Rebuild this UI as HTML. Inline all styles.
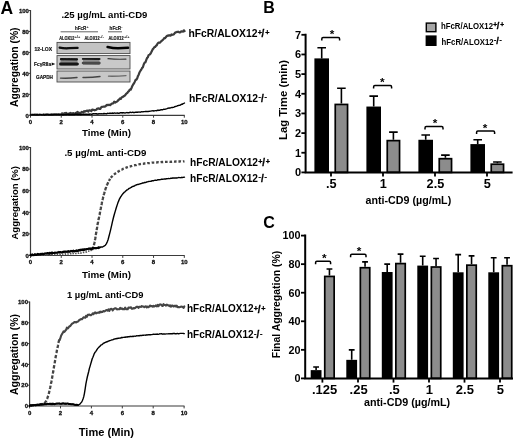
<!DOCTYPE html>
<html lang="en"><head><meta charset="utf-8"><title>Figure</title>
<style>html,body{margin:0;padding:0;background:#fff;overflow:hidden}svg{display:block}text{font-family:"Liberation Sans", sans-serif}</style>
</head><body>
<svg width="520" height="439" viewBox="0 0 520 439">
<defs><filter id="b1" filterUnits="userSpaceOnUse" x="50" y="38" width="90" height="50"><feGaussianBlur stdDeviation="0.6"/></filter><filter id="soft" filterUnits="userSpaceOnUse" x="0" y="0" width="520" height="439"><feGaussianBlur stdDeviation="0.35"/></filter><filter id="b2" filterUnits="userSpaceOnUse" x="50" y="38" width="90" height="50"><feGaussianBlur stdDeviation="0.45"/></filter></defs>
<rect width="520" height="439" fill="#fff"/>
<g filter="url(#soft)">
<text x="0.6" y="13.5" font-size="17.5" font-weight="bold" fill="#000">A</text>
<text x="263.3" y="13" font-size="16" font-weight="bold" fill="#000">B</text>
<text x="263.2" y="228" font-size="16" font-weight="bold" fill="#000">C</text>
<path d="M30.5,10.0V115.3H184.70000000000002" fill="none" stroke="#3a3a3a" stroke-width="1.2"/>
<path d="M28.7,115.30H30.5" stroke="#3a3a3a" stroke-width="1"/>
<text x="28.9" y="117.5" font-size="6" font-weight="bold" fill="#111" text-anchor="end" stroke="#111" stroke-width="0.3">0</text>
<path d="M28.7,94.34H30.5" stroke="#3a3a3a" stroke-width="1"/>
<text x="28.9" y="96.54" font-size="6" font-weight="bold" fill="#111" text-anchor="end" stroke="#111" stroke-width="0.3">20</text>
<path d="M28.7,73.38H30.5" stroke="#3a3a3a" stroke-width="1"/>
<text x="28.9" y="75.58" font-size="6" font-weight="bold" fill="#111" text-anchor="end" stroke="#111" stroke-width="0.3">40</text>
<path d="M28.7,52.42H30.5" stroke="#3a3a3a" stroke-width="1"/>
<text x="28.9" y="54.62" font-size="6" font-weight="bold" fill="#111" text-anchor="end" stroke="#111" stroke-width="0.3">60</text>
<path d="M28.7,31.46H30.5" stroke="#3a3a3a" stroke-width="1"/>
<text x="28.9" y="33.66" font-size="6" font-weight="bold" fill="#111" text-anchor="end" stroke="#111" stroke-width="0.3">80</text>
<path d="M28.7,10.50H30.5" stroke="#3a3a3a" stroke-width="1"/>
<text x="28.9" y="12.7" font-size="6" font-weight="bold" fill="#111" text-anchor="end" stroke="#111" stroke-width="0.3">100</text>
<path d="M30.50,115.3V117.7" stroke="#3a3a3a" stroke-width="1"/>
<text x="30.5" y="124.1" font-size="6" font-weight="bold" fill="#111" text-anchor="middle" stroke="#111" stroke-width="0.3">0</text>
<path d="M61.26,115.3V117.7" stroke="#3a3a3a" stroke-width="1"/>
<text x="61.26" y="124.1" font-size="6" font-weight="bold" fill="#111" text-anchor="middle" stroke="#111" stroke-width="0.3">2</text>
<path d="M92.02,115.3V117.7" stroke="#3a3a3a" stroke-width="1"/>
<text x="92.02" y="124.1" font-size="6" font-weight="bold" fill="#111" text-anchor="middle" stroke="#111" stroke-width="0.3">4</text>
<path d="M122.78,115.3V117.7" stroke="#3a3a3a" stroke-width="1"/>
<text x="122.78" y="124.1" font-size="6" font-weight="bold" fill="#111" text-anchor="middle" stroke="#111" stroke-width="0.3">6</text>
<path d="M153.54,115.3V117.7" stroke="#3a3a3a" stroke-width="1"/>
<text x="153.54" y="124.1" font-size="6" font-weight="bold" fill="#111" text-anchor="middle" stroke="#111" stroke-width="0.3">8</text>
<path d="M184.30,115.3V117.7" stroke="#3a3a3a" stroke-width="1"/>
<text x="184.3" y="124.1" font-size="6" font-weight="bold" fill="#111" text-anchor="middle" stroke="#111" stroke-width="0.3">10</text>
<text x="61.4" y="18" font-size="9.55" font-weight="bold" fill="#000" textLength="86" lengthAdjust="spacingAndGlyphs">.25 µg/mL anti-CD9</text>
<text x="82" y="136" font-size="9.84" font-weight="bold" fill="#000" textLength="49" lengthAdjust="spacingAndGlyphs">Time (Min)</text>
<text transform="translate(18.3,107) rotate(-90)" font-size="10.3" font-weight="bold" fill="#000" textLength="79.5" lengthAdjust="spacingAndGlyphs">Aggregation (%)</text>
<polyline points="30.5,114.5 31.1,114.4 31.8,114.7 32.4,114.3 33.0,114.6 33.6,114.5 34.3,114.3 34.9,114.5 35.5,114.3 36.2,114.5 36.8,114.3 37.4,114.3 38.1,114.5 38.7,114.7 39.3,114.3 40.0,114.3 40.6,114.5 41.2,114.7 41.8,114.5 42.5,114.4 43.1,114.7 43.7,114.1 44.4,114.6 45.0,114.3 45.6,114.2 46.2,114.1 46.9,114.2 47.5,114.5 48.1,114.1 48.8,114.4 49.4,114.4 50.0,114.2 50.7,114.3 51.3,114.0 51.9,114.0 52.5,114.1 53.2,114.3 53.8,114.1 54.4,114.1 55.1,114.2 55.7,114.1 56.3,114.0 57.0,114.3 57.6,114.2 58.2,113.9 58.9,114.1 59.5,114.0 60.1,114.2 60.7,114.1 61.4,113.8 62.0,114.2" fill="none" stroke="#3a3a3a" stroke-width="1.5" stroke-linejoin="round" stroke-linecap="round"/>
<polyline points="62.0,113.3 62.8,113.7 63.6,114.2 64.5,113.1 65.3,113.7 66.1,112.8 66.9,113.9 67.7,114.0 68.5,113.6 69.4,114.1 70.2,113.0 71.0,113.6 71.8,113.4 72.6,113.3 73.4,113.1 74.3,113.6 75.1,113.7 75.9,112.9 76.7,113.1 77.5,112.0 78.3,113.0 79.2,112.8 80.0,113.3 80.8,112.9 81.6,111.9 82.4,112.0 83.3,112.3 84.1,111.1 84.9,111.7 85.7,111.1 86.5,110.9 87.3,110.6 88.2,111.6 89.0,110.4 89.8,110.4 90.6,110.5 91.4,111.1 92.2,109.6 93.1,110.0 93.9,109.9 94.7,110.3 95.5,110.0 96.3,109.8 97.1,108.6 98.0,108.6 98.8,108.3 99.6,108.9 100.4,108.8 101.2,107.2 102.0,106.9 102.9,106.7 103.7,106.5 104.5,106.6 105.3,106.4 106.1,105.6 107.0,104.8 107.8,105.2 108.6,104.8 109.4,104.8 110.2,105.1 111.0,104.3 111.9,103.6 112.7,103.4 113.5,103.1 114.3,101.6 115.1,102.6 115.9,102.0 116.8,101.7 117.6,101.1 118.4,99.9 119.2,99.5 120.0,98.5 120.8,98.9 121.7,97.4 122.5,96.9 123.3,96.6 124.1,95.9 124.9,95.5 125.8,94.3 126.6,93.4 127.4,92.8 128.2,91.7 129.0,91.1 129.8,89.5 130.7,89.7 131.5,88.0 132.3,86.0 133.1,84.7 133.9,83.4 134.7,81.9 135.6,79.9 136.4,79.6 137.2,78.3 138.0,75.9 138.8,74.4 139.6,72.2 140.5,70.7 141.3,69.6 142.1,67.9 142.9,67.3 143.7,64.5 144.6,62.6 145.4,62.5 146.2,60.2 147.0,58.1 147.8,57.3 148.6,55.1 149.5,54.6 150.3,54.0 151.1,52.6 151.9,51.1 152.7,49.3 153.5,48.4 154.4,47.0 155.2,47.0 156.0,45.7 156.8,45.2 157.6,43.6 158.4,42.6 159.3,42.8 160.1,42.4 160.9,41.5 161.7,40.8 162.5,40.2 163.3,39.5 164.2,38.1 165.0,38.1 165.8,37.3 166.6,36.2 167.4,35.7 168.3,35.7 169.1,35.2 169.9,35.6 170.7,35.6 171.5,34.4 172.3,34.8 173.2,34.6 174.0,34.2 174.8,33.0 175.6,32.4 176.4,32.2 177.2,31.9 178.1,31.7 178.9,32.1 179.7,32.4 180.5,32.1 181.3,31.3 182.1,31.5 183.0,31.6 183.8,30.3 184.6,31.2" fill="none" stroke="#3a3a3a" stroke-width="2.2" stroke-linejoin="round" stroke-linecap="round"/>
<polyline points="30.5,115.0 31.2,114.9 31.9,114.9 32.6,114.8 33.3,114.6 34.0,114.9 34.7,114.7 35.4,114.9 36.1,115.0 36.8,114.7 37.5,114.7 38.2,115.0 38.9,114.9 39.6,114.6 40.3,114.6 41.0,114.6 41.7,114.9 42.4,114.9 43.1,114.6 43.8,114.9 44.5,115.0 45.2,114.8 45.9,114.6 46.6,114.7 47.3,114.5 48.0,114.5 48.7,114.9 49.4,114.8 50.1,114.7 50.8,114.9 51.5,114.7 52.2,114.9 52.9,114.8 53.6,114.5 54.3,114.5 55.0,114.6 55.7,114.5 56.4,114.7 57.1,114.5 57.8,114.6 58.5,114.5 59.2,114.8 59.9,114.6 60.6,114.6 61.3,114.6 62.0,114.8 62.7,114.6 63.4,114.8 64.1,114.6 64.8,114.6 65.5,114.6 66.2,114.3 66.9,114.5 67.6,114.4 68.3,114.3 69.0,114.7 69.7,114.3 70.4,114.5 71.1,114.6 71.8,114.5 72.5,114.4 73.2,114.5 73.9,114.5 74.6,114.6 75.3,114.2 76.0,114.4 76.7,114.3 77.4,114.3 78.1,114.5 78.8,114.4 79.5,114.4 80.2,114.5 80.9,114.5 81.6,114.3 82.3,114.3 83.0,114.3 83.7,114.3 84.4,114.3 85.1,114.2 85.8,114.2 86.5,114.2 87.2,114.4 87.9,114.3 88.6,114.3 89.3,114.3 90.0,114.0 90.7,114.1 91.4,114.3 92.1,114.2 92.8,113.8 93.5,113.8 94.2,113.9 94.9,113.7 95.6,113.8 96.3,113.7 97.0,114.0 97.7,114.0 98.4,114.0 99.1,113.6 99.8,113.9 100.5,113.8 101.2,113.6 101.9,113.9 102.6,113.9 103.3,113.5 104.0,113.8 104.7,113.5 105.4,113.6 106.1,113.8 106.8,113.7 107.5,113.3 108.2,113.4 108.9,113.4 109.6,113.3 110.3,113.2 111.0,113.2 111.7,113.4 112.4,113.0 113.1,113.3 113.8,113.2 114.5,113.0 115.2,113.1 115.9,113.2 116.6,113.1 117.3,112.9 118.0,113.3 118.7,113.2 119.4,113.2 120.1,112.8 120.8,112.8 121.5,112.7 122.2,113.0 122.9,112.7 123.6,112.6 124.3,112.8 125.0,113.0 125.7,112.9 126.4,112.6 127.1,112.5 127.8,112.9 128.5,112.6 129.2,112.7 129.9,112.3 130.6,112.3 131.3,112.6 132.0,112.4 132.7,112.2 133.4,112.6 134.1,112.4 134.8,112.5 135.5,112.1 136.2,112.4 136.9,112.0 137.6,112.3 138.3,112.1 139.0,112.0 139.7,112.1 140.4,112.2 141.1,111.9 141.8,111.7 142.5,111.9 143.2,111.7 143.9,111.6 144.6,111.6 145.3,111.5 146.0,111.5 146.7,111.5 147.4,111.4 148.1,111.6 148.8,111.3 149.5,111.4 150.2,111.1 150.9,111.1 151.6,110.9 152.3,110.9 153.0,110.7 153.7,111.0 154.4,110.8 155.1,110.6 155.8,110.6 156.5,110.7 157.2,110.2 157.9,110.5 158.6,110.2 159.3,110.1 160.0,110.2 160.7,109.8 161.4,109.8 162.1,109.7 162.8,109.8 163.5,109.3 164.2,109.4 164.9,109.2 165.6,109.1 166.3,108.8 167.0,108.6 167.7,108.3 168.4,108.2 169.1,108.0 169.8,108.2 170.5,107.8 171.2,107.6 171.9,107.4 172.6,107.5 173.3,107.4 174.0,107.1 174.7,106.7 175.4,106.5 176.1,106.3 176.8,106.1 177.5,105.7 178.2,105.6 178.9,105.3 179.6,105.3 180.3,105.1 181.0,104.6 181.7,104.2 182.4,104.2 183.1,103.6 183.8,103.4 184.5,103.0" fill="none" stroke="#000" stroke-width="1.4" stroke-linejoin="round" stroke-linecap="round"/>
<text x="188.4" y="36.6" font-size="10.71" font-weight="bold" fill="#000" textLength="69" lengthAdjust="spacingAndGlyphs">hFcR/ALOX12</text>
<text x="257.70" y="35.10" font-size="7.2" font-weight="bold" fill="#000" stroke="#000" stroke-width="0.30">+</text>
<text x="261.60" y="37.20" font-size="10.0" font-weight="bold" fill="#000" stroke="#000" stroke-width="0.30">/</text>
<text x="265.20" y="35.10" font-size="7.2" font-weight="bold" fill="#000" stroke="#000" stroke-width="0.30">+</text>
<text x="189" y="101.6" font-size="10.71" font-weight="bold" fill="#000" textLength="69" lengthAdjust="spacingAndGlyphs">hFcR/ALOX12</text>
<text x="258.40" y="99.20" font-size="7.2" font-weight="bold" fill="#000" stroke="#000" stroke-width="0.30">-</text>
<text x="261.00" y="101.70" font-size="10.0" font-weight="bold" fill="#000" stroke="#000" stroke-width="0.30">/</text>
<text x="264.50" y="99.20" font-size="7.2" font-weight="bold" fill="#000" stroke="#000" stroke-width="0.30">-</text>
<g>
<rect x="57" y="42.4" width="73" height="11.2" fill="#c3c3c3" stroke="#4a4a4a" stroke-width="0.9"/>
<rect x="57" y="55.6" width="73" height="13.4" fill="#c9c9c9" stroke="#4a4a4a" stroke-width="0.9"/>
<rect x="57" y="71" width="73" height="11" fill="#c8c8c8" stroke="#4a4a4a" stroke-width="0.9"/>
<path d="M59.6,47.6Q64,48.5 69,48.2T77.6,47.9" stroke="#080808" stroke-width="2.2" fill="none" stroke-linecap="round" filter="url(#b1)"/>
<path d="M107.6,47Q113,48.2 118,48.2T128,47.8" stroke="#060606" stroke-width="2.6" fill="none" stroke-linecap="round" filter="url(#b1)"/>
<rect x="60.5" y="58.2" width="17" height="7.4" fill="#8a8a8a" filter="url(#b1)"/>
<path d="M61,59.2L77,59.3" stroke="#141414" stroke-width="2.2" stroke-linecap="round" filter="url(#b1)"/>
<path d="M60.6,63.9L77.4,64" stroke="#121212" stroke-width="3.0" stroke-linecap="round" filter="url(#b1)"/>
<rect x="83" y="58.4" width="16.5" height="6.6" fill="#8e8e8e" filter="url(#b1)"/>
<path d="M82.8,58.9L99.6,59" stroke="#1a1a1a" stroke-width="1.9" stroke-linecap="round" filter="url(#b1)"/>
<path d="M83,63L99.4,63.1" stroke="#4a4a4a" stroke-width="2.6" stroke-linecap="round" filter="url(#b1)"/>
<path d="M108,58.7Q117,59.5 126,59.1" stroke="#3a3a3a" stroke-width="1.2" fill="none" stroke-linecap="round" filter="url(#b2)"/>
<path d="M60.5,78.1Q69,78.5 77,77.5" stroke="#444" stroke-width="1.4" fill="none" stroke-linecap="round" filter="url(#b2)"/>
<path d="M83,77.5Q91,77.7 100,76.5" stroke="#444" stroke-width="1.4" fill="none" stroke-linecap="round" filter="url(#b2)"/>
<path d="M108.5,76.2Q117,76.4 126,75.6" stroke="#6a6a6a" stroke-width="1.3" fill="none" stroke-linecap="round" filter="url(#b2)"/>
<text x="34.5" y="50.9" font-size="5.3" font-weight="bold" fill="#111" stroke="#111" stroke-width="0.18" textLength="17.5" lengthAdjust="spacingAndGlyphs">12-LOX</text>
<text x="34.1" y="65.9" font-size="5.2" font-weight="bold" fill="#111" stroke="#111" stroke-width="0.18" textLength="17" lengthAdjust="spacingAndGlyphs">FcγRIIa</text>
<path d="M51.7,62.5L55.3,64L51.7,65.5Z" fill="#111"/>
<text x="36" y="78.7" font-size="5.2" font-weight="bold" fill="#111" stroke="#111" stroke-width="0.18" textLength="17" lengthAdjust="spacingAndGlyphs">GAPDH</text>
<text x="75" y="30" font-size="5.6" font-weight="bold" fill="#111" stroke="#111" stroke-width="0.18" textLength="11.4" lengthAdjust="spacingAndGlyphs">hFcR</text>
<text x="86.6" y="27.8" font-size="3.6" font-weight="bold" fill="#111">+</text>
<text x="109.6" y="30" font-size="5.6" font-weight="bold" fill="#111" stroke="#111" stroke-width="0.18" textLength="11.4" lengthAdjust="spacingAndGlyphs">hFcR</text>
<text x="121.2" y="27.6" font-size="3.6" font-weight="bold" fill="#111">-</text>
<path d="M60.6,31.8H98M108,31.8H122" stroke="#555" stroke-width="0.9"/>
<text x="59.2" y="40" font-size="5.3" font-weight="bold" fill="#111" stroke="#111" stroke-width="0.18" textLength="15.2" lengthAdjust="spacingAndGlyphs">ALOX12</text>
<text x="74.7" y="38.2" font-size="3.6" font-weight="bold" fill="#111" textLength="5.6" lengthAdjust="spacingAndGlyphs">+/+</text>
<text x="84.4" y="40" font-size="5.3" font-weight="bold" fill="#111" stroke="#111" stroke-width="0.18" textLength="15.2" lengthAdjust="spacingAndGlyphs">ALOX12</text>
<text x="99.9" y="38.2" font-size="3.6" font-weight="bold" fill="#111" textLength="4.2" lengthAdjust="spacingAndGlyphs">-/-</text>
<text x="108.4" y="40" font-size="5.3" font-weight="bold" fill="#111" stroke="#111" stroke-width="0.18" textLength="15.2" lengthAdjust="spacingAndGlyphs">ALOX12</text>
<text x="123.9" y="38.2" font-size="3.6" font-weight="bold" fill="#111" textLength="5.6" lengthAdjust="spacingAndGlyphs">+/+</text>
</g>
<path d="M30.5,147.0V255.5H184.70000000000002" fill="none" stroke="#3a3a3a" stroke-width="1.2"/>
<path d="M28.7,255.50H30.5" stroke="#3a3a3a" stroke-width="1"/>
<text x="28.9" y="257.7" font-size="6" font-weight="bold" fill="#111" text-anchor="end" stroke="#111" stroke-width="0.3">0</text>
<path d="M28.7,233.90H30.5" stroke="#3a3a3a" stroke-width="1"/>
<text x="28.9" y="236.1" font-size="6" font-weight="bold" fill="#111" text-anchor="end" stroke="#111" stroke-width="0.3">20</text>
<path d="M28.7,212.30H30.5" stroke="#3a3a3a" stroke-width="1"/>
<text x="28.9" y="214.5" font-size="6" font-weight="bold" fill="#111" text-anchor="end" stroke="#111" stroke-width="0.3">40</text>
<path d="M28.7,190.70H30.5" stroke="#3a3a3a" stroke-width="1"/>
<text x="28.9" y="192.9" font-size="6" font-weight="bold" fill="#111" text-anchor="end" stroke="#111" stroke-width="0.3">60</text>
<path d="M28.7,169.10H30.5" stroke="#3a3a3a" stroke-width="1"/>
<text x="28.9" y="171.3" font-size="6" font-weight="bold" fill="#111" text-anchor="end" stroke="#111" stroke-width="0.3">80</text>
<path d="M28.7,147.50H30.5" stroke="#3a3a3a" stroke-width="1"/>
<text x="28.9" y="149.7" font-size="6" font-weight="bold" fill="#111" text-anchor="end" stroke="#111" stroke-width="0.3">100</text>
<path d="M30.50,255.5V257.9" stroke="#3a3a3a" stroke-width="1"/>
<text x="30.5" y="264.3" font-size="6" font-weight="bold" fill="#111" text-anchor="middle" stroke="#111" stroke-width="0.3">0</text>
<path d="M61.26,255.5V257.9" stroke="#3a3a3a" stroke-width="1"/>
<text x="61.26" y="264.3" font-size="6" font-weight="bold" fill="#111" text-anchor="middle" stroke="#111" stroke-width="0.3">2</text>
<path d="M92.02,255.5V257.9" stroke="#3a3a3a" stroke-width="1"/>
<text x="92.02" y="264.3" font-size="6" font-weight="bold" fill="#111" text-anchor="middle" stroke="#111" stroke-width="0.3">4</text>
<path d="M122.78,255.5V257.9" stroke="#3a3a3a" stroke-width="1"/>
<text x="122.78" y="264.3" font-size="6" font-weight="bold" fill="#111" text-anchor="middle" stroke="#111" stroke-width="0.3">6</text>
<path d="M153.54,255.5V257.9" stroke="#3a3a3a" stroke-width="1"/>
<text x="153.54" y="264.3" font-size="6" font-weight="bold" fill="#111" text-anchor="middle" stroke="#111" stroke-width="0.3">8</text>
<path d="M184.30,255.5V257.9" stroke="#3a3a3a" stroke-width="1"/>
<text x="184.3" y="264.3" font-size="6" font-weight="bold" fill="#111" text-anchor="middle" stroke="#111" stroke-width="0.3">10</text>
<text x="64.4" y="156.1" font-size="9.71" font-weight="bold" fill="#000" textLength="82" lengthAdjust="spacingAndGlyphs">.5 µg/mL anti-CD9</text>
<text x="82" y="277.5" font-size="9.84" font-weight="bold" fill="#000" textLength="49" lengthAdjust="spacingAndGlyphs">Time (Min)</text>
<text transform="translate(18.3,239.5) rotate(-90)" font-size="9.52" font-weight="bold" fill="#000" textLength="73.5" lengthAdjust="spacingAndGlyphs">Aggregation (%)</text>
<polyline points="30.5,255.3 31.3,255.4 32.0,255.4 32.8,255.2 33.6,255.3 34.3,255.0 35.1,255.1 35.9,255.0 36.6,255.2 37.4,255.0 38.2,254.9 39.0,255.1 39.7,255.0 40.5,255.2 41.3,255.1 42.0,255.2 42.8,255.1 43.6,255.1 44.3,255.2 45.1,254.9 45.9,254.9 46.6,255.2 47.4,254.7 48.2,255.0 49.0,254.9 49.7,254.6 50.5,254.9 51.3,254.9 52.0,254.8 52.8,254.8 53.6,254.8 54.3,254.4 55.1,254.6 55.9,254.6 56.6,254.7 57.4,254.7 58.2,254.6 58.9,254.5 59.7,254.6 60.5,254.5 61.2,254.4 62.0,254.2 62.8,254.0 63.6,254.0 64.3,254.1 65.1,253.9 65.9,254.2 66.6,254.1 67.4,254.0 68.2,254.0 68.9,254.0 69.7,253.8 70.5,253.5 71.2,253.9 72.0,253.8 72.8,253.6 73.5,253.5 74.3,253.5 75.1,253.2 75.9,253.5 76.6,253.1 77.4,253.0 78.2,253.0 78.9,253.2 79.7,252.8 80.5,253.0 81.2,253.0 82.0,252.7 82.8,252.5 83.5,252.4 84.3,252.4 85.1,252.3 85.8,252.1 86.6,251.9 87.4,251.4 88.2,251.2 88.9,251.0 89.7,250.9 90.5,250.4 91.2,250.3 92.0,249.8" fill="none" stroke="#555" stroke-width="1.7" stroke-linejoin="round" stroke-linecap="butt" stroke-dasharray="1.5 1.2"/>
<polyline points="92.0,249.9 92.2,249.5 92.5,249.1 92.7,248.7 92.9,248.3 93.1,247.8 93.3,247.3 93.6,246.6 93.8,245.8 94.0,244.8 94.2,243.9 94.5,242.6 94.7,241.6 94.9,240.3 95.2,238.9 95.4,237.7 95.6,236.5 95.8,235.2 96.0,233.7 96.3,232.3 96.5,230.9 96.7,229.7 97.0,228.1 97.2,226.9 97.4,225.5 97.6,224.3 97.8,223.2 98.1,221.9 98.3,220.9 98.5,219.7 98.8,218.7 99.0,217.6 99.2,216.4 99.4,215.4 99.7,214.2 99.9,213.0 100.1,211.9 100.3,210.8 100.5,209.7 100.8,208.4 101.0,207.2 101.2,206.1 101.5,204.9 101.7,203.9 101.9,202.6 102.1,201.7 102.3,200.7 102.6,199.6 102.8,198.8 103.0,197.9 103.2,197.0 103.5,196.0 103.7,195.2 103.9,194.3 104.2,193.6 104.4,192.7 104.6,191.9 104.8,191.1 105.0,190.4 105.3,189.6 105.5,188.9 105.7,188.4 106.0,187.6 106.2,187.1 106.4,186.4 106.6,185.8 106.8,185.3 107.1,184.7 107.3,184.2 107.5,183.9 107.8,183.4 108.0,182.9 108.2,182.4 108.4,182.0 108.7,181.6 108.9,181.1 109.1,180.7 109.3,180.1 109.5,179.8 109.8,179.2 110.0,178.8" fill="none" stroke="#454545" stroke-width="2.3" stroke-linejoin="round" stroke-linecap="butt" stroke-dasharray="3.6 1.5"/>
<polyline points="110.8,177.8 111.4,177.1 112.0,176.4 112.6,176.0 113.3,175.2 113.9,174.7 114.5,174.2 115.1,173.7 115.7,173.3 116.3,172.9 116.9,172.3 117.6,172.0 118.2,171.5 118.8,171.2 119.4,170.8 120.0,170.4 120.6,170.0 121.2,169.7 121.9,169.6 122.5,169.2 123.1,168.8 123.7,168.7 124.3,168.5 124.9,168.1 125.5,167.8 126.2,167.6 126.8,167.4 127.4,167.2 128.0,167.0 128.6,166.8 129.2,166.6 129.8,166.5 130.5,166.4 131.1,166.2 131.7,166.0 132.3,165.8 132.9,165.7 133.5,165.5 134.1,165.4 134.8,165.2 135.4,165.1 136.0,165.1 136.6,164.8 137.2,164.7 137.8,164.6 138.4,164.5 139.1,164.3 139.7,164.2 140.3,164.1 140.9,164.0 141.5,163.9 142.1,163.9 142.7,163.8 143.4,163.8 144.0,163.5 144.6,163.5 145.2,163.5 145.8,163.5 146.4,163.3 147.0,163.3 147.7,163.1 148.3,163.1 148.9,163.2 149.5,163.1 150.1,163.0 150.7,163.0 151.3,162.8 151.9,162.7 152.6,162.7 153.2,162.7 153.8,162.7 154.4,162.7 155.0,162.6 155.6,162.5 156.2,162.5 156.9,162.4 157.5,162.4 158.1,162.2 158.7,162.3 159.3,162.2 159.9,162.3 160.5,162.2 161.2,162.1 161.8,162.0 162.4,162.0 163.0,162.1 163.6,162.0 164.2,161.9 164.8,161.9 165.5,161.9 166.1,161.9 166.7,161.9 167.3,161.8 167.9,161.8 168.5,161.7 169.1,161.7 169.8,161.8 170.4,161.8 171.0,161.7 171.6,161.8 172.2,161.7 172.8,161.6 173.4,161.6 174.1,161.7 174.7,161.6 175.3,161.6 175.9,161.5 176.5,161.6 177.1,161.6 177.7,161.5 178.4,161.5 179.0,161.5 179.6,161.5 180.2,161.4 180.8,161.3 181.4,161.4 182.0,161.4 182.7,161.4 183.3,161.3 183.9,161.4 184.5,161.3" fill="none" stroke="#454545" stroke-width="2.3" stroke-linejoin="round" stroke-linecap="butt" stroke-dasharray="2.6 1.9"/>
<polyline points="30.5,255.0 31.2,254.8 31.9,255.1 32.6,254.7 33.3,254.9 34.0,254.6 34.7,254.5 35.4,254.7 36.1,254.4 36.8,254.6 37.5,254.4 38.2,254.2 38.9,254.1 39.6,254.1 40.3,254.2 41.0,254.2 41.7,253.8 42.4,253.9 43.1,253.7 43.8,254.0 44.5,253.6 45.2,253.5 45.9,253.4 46.6,253.5 47.3,253.6 48.0,253.5 48.7,253.4 49.4,253.5 50.1,253.4 50.8,253.1 51.5,252.9 52.2,253.2 52.9,253.0 53.6,252.7 54.3,252.9 55.0,252.7 55.7,252.7 56.4,252.6 57.1,252.5 57.8,252.3 58.5,252.4 59.2,252.4 59.9,252.5 60.6,252.2 61.3,252.4 62.0,252.1 62.7,252.1 63.4,252.2 64.1,252.1 64.8,251.9 65.5,251.7 66.2,251.8 66.9,251.7 67.6,251.8 68.3,251.5 69.0,251.5 69.7,251.6 70.4,251.2 71.1,251.2 71.8,251.3 72.5,251.2 73.2,250.8 73.9,250.7 74.6,250.7 75.3,250.9 76.0,250.6 76.7,250.7 77.4,250.6 78.1,250.3 78.8,250.2 79.5,250.4 80.2,250.1 80.9,249.9 81.6,250.0 82.3,249.7 83.0,249.6 83.7,249.4 84.4,249.6 85.1,249.6 85.8,249.4 86.5,249.4 87.2,248.9 87.9,248.9 88.6,248.9 89.3,249.0 90.0,248.9 90.7,248.6 91.4,248.4 92.1,248.4 92.8,248.4 93.5,248.4 94.2,248.1 94.9,248.2 95.6,248.2 96.3,248.1 97.0,248.0 97.7,247.8 98.4,247.6 99.1,247.5 99.8,247.4 100.5,247.4 101.2,247.0 101.9,246.9 102.6,247.0 103.3,246.5 104.0,246.1 104.7,245.7 105.4,245.2 106.1,244.1 106.8,242.9 107.5,241.2 108.2,239.2 108.9,236.5 109.6,233.9 110.3,231.1 111.0,228.2 111.7,225.1 112.4,221.9 113.1,219.0 113.8,216.3 114.5,213.8 115.2,211.4 115.9,209.0 116.6,206.8 117.3,204.6 118.0,202.5 118.7,200.9 119.4,199.1 120.1,197.8 120.8,196.6 121.5,195.7 122.2,194.6 122.9,193.8 123.6,193.0 124.3,192.2 125.0,191.8 125.7,191.1 126.4,190.4 127.1,189.9 127.8,189.6 128.5,188.9 129.2,188.4 129.9,188.2 130.6,187.7 131.3,187.4 132.0,186.7 132.7,186.5 133.4,186.3 134.1,186.0 134.8,185.8 135.5,185.1 136.2,185.0 136.9,184.7 137.6,184.4 138.3,184.5 139.0,184.1 139.7,184.1 140.4,183.6 141.1,183.6 141.8,183.3 142.5,183.0 143.2,183.0 143.9,182.9 144.6,182.4 145.3,182.5 146.0,182.3 146.7,182.0 147.4,181.9 148.1,181.7 148.8,181.5 149.5,181.4 150.2,181.4 150.9,181.3 151.6,181.0 152.3,180.7 153.0,180.7 153.7,180.7 154.4,180.4 155.1,180.3 155.8,180.2 156.5,180.3 157.2,180.1 157.9,179.7 158.6,179.7 159.3,179.7 160.0,179.6 160.7,179.6 161.4,179.2 162.1,179.2 162.8,179.3 163.5,179.1 164.2,179.0 164.9,178.9 165.6,179.1 166.3,178.7 167.0,178.7 167.7,178.6 168.4,178.5 169.1,178.6 169.8,178.6 170.5,178.3 171.2,178.2 171.9,178.3 172.6,178.0 173.3,177.9 174.0,178.2 174.7,177.9 175.4,178.0 176.1,177.8 176.8,178.0 177.5,177.8 178.2,177.6 178.9,177.5 179.6,177.6 180.3,177.6 181.0,177.7 181.7,177.3 182.4,177.5 183.1,177.3 183.8,177.4 184.5,177.2" fill="none" stroke="#000" stroke-width="1.4" stroke-linejoin="round" stroke-linecap="round"/>
<polyline points="30.5,254.8 31.1,255.0 31.7,255.4 32.2,254.4 32.8,254.8 33.4,255.1 34.0,255.2 34.6,254.3 35.1,254.2 35.7,255.0 36.3,255.0 36.9,254.4 37.5,253.9 38.0,254.8 38.6,254.1 39.2,254.6 39.8,254.3 40.3,254.4 40.9,253.7 41.5,254.3 42.1,253.6 42.7,253.8 43.2,254.2 43.8,254.1 44.4,253.4 45.0,253.4 45.6,253.5 46.1,253.6 46.7,253.4 47.3,253.0 47.9,253.1 48.5,253.6 49.0,253.7 49.6,252.7 50.2,253.3 50.8,253.4 51.4,252.6 51.9,253.4 52.5,252.6 53.1,253.0 53.7,252.9 54.2,253.0 54.8,252.6 55.4,252.6 56.0,252.8 56.6,252.6 57.1,252.8 57.7,252.5 58.3,252.4 58.9,251.9 59.5,252.5 60.0,252.3 60.6,252.0 61.2,252.5 61.8,252.5 62.4,252.1 62.9,251.7 63.5,252.0 64.1,251.6 64.7,251.5 65.2,251.8 65.8,251.4 66.4,251.7 67.0,251.7 67.6,251.2 68.1,251.8 68.7,251.1 69.3,251.7 69.9,251.7 70.5,251.4 71.0,250.8 71.6,251.2 72.2,251.0 72.8,251.6 73.4,250.6 73.9,251.3 74.5,251.4 75.1,251.0 75.7,251.1 76.3,250.3 76.8,251.1 77.4,250.5 78.0,250.9 78.6,250.8 79.2,249.9 79.7,250.5 80.3,250.6 80.9,249.5 81.5,249.8 82.0,250.1 82.6,249.4 83.2,250.1 83.8,249.4 84.4,249.9 84.9,249.1 85.5,249.4 86.1,249.7 86.7,248.9 87.3,248.9 87.8,249.0 88.4,248.8 89.0,248.4 89.6,248.4 90.2,248.3 90.7,249.1 91.3,248.8 91.9,248.9 92.5,248.0 93.0,248.6 93.6,247.8 94.2,248.2 94.8,248.2 95.4,247.9 95.9,248.4 96.5,247.9 97.1,247.9 97.7,248.1 98.3,247.2 98.8,248.1 99.4,247.6 100.0,247.3" fill="none" stroke="#000" stroke-width="2.0" stroke-linejoin="round" stroke-linecap="round"/>
<text x="190" y="165.8" font-size="10.55" font-weight="bold" fill="#000" textLength="68" lengthAdjust="spacingAndGlyphs">hFcR/ALOX12</text>
<text x="258.30" y="164.30" font-size="7.2" font-weight="bold" fill="#000" stroke="#000" stroke-width="0.30">+</text>
<text x="262.20" y="166.40" font-size="10.0" font-weight="bold" fill="#000" stroke="#000" stroke-width="0.30">/</text>
<text x="265.80" y="164.30" font-size="7.2" font-weight="bold" fill="#000" stroke="#000" stroke-width="0.30">+</text>
<text x="190" y="181.5" font-size="10.55" font-weight="bold" fill="#000" textLength="68" lengthAdjust="spacingAndGlyphs">hFcR/ALOX12</text>
<text x="258.40" y="179.10" font-size="7.2" font-weight="bold" fill="#000" stroke="#000" stroke-width="0.30">-</text>
<text x="261.00" y="181.60" font-size="10.0" font-weight="bold" fill="#000" stroke="#000" stroke-width="0.30">/</text>
<text x="264.50" y="179.10" font-size="7.2" font-weight="bold" fill="#000" stroke="#000" stroke-width="0.30">-</text>
<path d="M29.6,301.5V406H184.5" fill="none" stroke="#3a3a3a" stroke-width="1.2"/>
<path d="M27.8,406.00H29.6" stroke="#3a3a3a" stroke-width="1"/>
<text x="28.0" y="408.2" font-size="6" font-weight="bold" fill="#111" text-anchor="end" stroke="#111" stroke-width="0.3">0</text>
<path d="M27.8,385.20H29.6" stroke="#3a3a3a" stroke-width="1"/>
<text x="28.0" y="387.4" font-size="6" font-weight="bold" fill="#111" text-anchor="end" stroke="#111" stroke-width="0.3">20</text>
<path d="M27.8,364.40H29.6" stroke="#3a3a3a" stroke-width="1"/>
<text x="28.0" y="366.6" font-size="6" font-weight="bold" fill="#111" text-anchor="end" stroke="#111" stroke-width="0.3">40</text>
<path d="M27.8,343.60H29.6" stroke="#3a3a3a" stroke-width="1"/>
<text x="28.0" y="345.8" font-size="6" font-weight="bold" fill="#111" text-anchor="end" stroke="#111" stroke-width="0.3">60</text>
<path d="M27.8,322.80H29.6" stroke="#3a3a3a" stroke-width="1"/>
<text x="28.0" y="325.0" font-size="6" font-weight="bold" fill="#111" text-anchor="end" stroke="#111" stroke-width="0.3">80</text>
<path d="M27.8,302.00H29.6" stroke="#3a3a3a" stroke-width="1"/>
<text x="28.0" y="304.2" font-size="6" font-weight="bold" fill="#111" text-anchor="end" stroke="#111" stroke-width="0.3">100</text>
<path d="M29.60,406V408.4" stroke="#3a3a3a" stroke-width="1"/>
<text x="29.6" y="414.8" font-size="6" font-weight="bold" fill="#111" text-anchor="middle" stroke="#111" stroke-width="0.3">0</text>
<path d="M60.50,406V408.4" stroke="#3a3a3a" stroke-width="1"/>
<text x="60.5" y="414.8" font-size="6" font-weight="bold" fill="#111" text-anchor="middle" stroke="#111" stroke-width="0.3">2</text>
<path d="M91.40,406V408.4" stroke="#3a3a3a" stroke-width="1"/>
<text x="91.4" y="414.8" font-size="6" font-weight="bold" fill="#111" text-anchor="middle" stroke="#111" stroke-width="0.3">4</text>
<path d="M122.30,406V408.4" stroke="#3a3a3a" stroke-width="1"/>
<text x="122.3" y="414.8" font-size="6" font-weight="bold" fill="#111" text-anchor="middle" stroke="#111" stroke-width="0.3">6</text>
<path d="M153.20,406V408.4" stroke="#3a3a3a" stroke-width="1"/>
<text x="153.2" y="414.8" font-size="6" font-weight="bold" fill="#111" text-anchor="middle" stroke="#111" stroke-width="0.3">8</text>
<path d="M184.10,406V408.4" stroke="#3a3a3a" stroke-width="1"/>
<text x="184.1" y="414.8" font-size="6" font-weight="bold" fill="#111" text-anchor="middle" stroke="#111" stroke-width="0.3">10</text>
<text x="67" y="298.2" font-size="9.36" font-weight="bold" fill="#000" textLength="76.5" lengthAdjust="spacingAndGlyphs">1 µg/mL anti-CD9</text>
<text x="78.8" y="435.6" font-size="11.08" font-weight="bold" fill="#000" textLength="55.2" lengthAdjust="spacingAndGlyphs">Time (Min)</text>
<text transform="translate(18.3,395) rotate(-90)" font-size="10.49" font-weight="bold" fill="#000" textLength="81" lengthAdjust="spacingAndGlyphs">Aggregation (%)</text>
<polyline points="29.6,405.5 30.0,405.3 30.5,405.5 30.9,405.3 31.3,405.3 31.7,405.4 32.2,405.2 32.6,405.1 33.0,405.3 33.5,405.0 33.9,405.3 34.3,405.1 34.7,405.1 35.2,405.2 35.6,405.1 36.0,405.0 36.5,404.9 36.9,404.8 37.3,404.8 37.7,404.8 38.2,404.9 38.6,404.8 39.0,404.7 39.5,404.8 39.9,404.5 40.3,404.5 40.7,404.5 41.2,404.2 41.6,404.1 42.0,404.1 42.5,403.9 42.9,403.8 43.3,403.5 43.7,403.4 44.2,403.1 44.6,402.7 45.0,402.5 45.5,402.0 45.9,401.3 46.3,400.8 46.7,399.7 47.2,398.7 47.6,397.5 48.0,396.4 48.5,395.0 48.9,393.3 49.3,391.5 49.7,389.5 50.2,387.5 50.6,385.6 51.0,383.5 51.5,381.2 51.9,379.0 52.3,376.6 52.7,374.3 53.2,371.8 53.6,369.2 54.0,366.8 54.5,364.0 54.9,361.7 55.3,359.2 55.7,356.8 56.2,354.4 56.6,352.3 57.0,349.9 57.5,347.9 57.9,345.9 58.3,343.6 58.7,341.7 59.2,340.2 59.6,339.0" fill="none" stroke="#454545" stroke-width="2.3" stroke-linejoin="round" stroke-linecap="butt" stroke-dasharray="3.4 1.8"/>
<polyline points="59.4,340.3 60.2,338.7 61.1,335.7 61.9,334.3 62.7,332.9 63.6,331.3 64.4,331.9 65.2,330.8 66.1,329.8 66.9,327.7 67.7,328.5 68.6,327.5 69.4,326.2 70.2,326.1 71.1,324.9 71.9,323.9 72.7,323.2 73.6,322.9 74.4,322.0 75.2,322.1 76.1,322.4 76.9,321.8 77.7,321.7 78.6,321.0 79.4,319.7 80.2,319.7 81.0,319.1 81.9,319.3 82.7,318.3 83.5,317.3 84.4,317.6 85.2,317.8 86.0,315.9 86.9,316.8 87.7,314.8 88.5,314.9 89.4,314.5 90.2,315.1 91.0,315.2 91.9,314.5 92.7,313.4 93.5,314.2 94.4,312.9 95.2,312.4 96.0,313.5 96.9,312.8 97.7,312.7 98.5,312.4 99.4,312.8 100.2,311.7 101.0,312.2 101.9,311.8 102.7,311.9 103.5,311.0 104.4,311.4 105.2,310.9 106.0,310.3 106.9,310.0 107.7,310.6 108.5,309.4 109.4,310.9 110.2,309.3 111.0,308.9 111.9,309.0 112.7,310.4 113.5,309.2 114.4,308.7 115.2,308.3 116.0,308.3 116.9,309.4 117.7,309.2 118.5,309.2 119.4,309.2 120.2,307.9 121.0,308.8 121.8,308.3 122.7,309.1 123.5,309.1 124.3,309.2 125.2,307.6 126.0,309.1 126.8,309.2 127.7,309.2 128.5,307.5 129.3,307.7 130.2,307.4 131.0,307.2 131.8,308.7 132.7,308.6 133.5,308.1 134.3,308.4 135.2,308.0 136.0,307.2 136.8,306.8 137.7,306.7 138.5,307.8 139.3,306.7 140.2,306.8 141.0,306.9 141.8,306.1 142.7,306.5 143.5,306.5 144.3,307.2 145.2,306.5 146.0,306.3 146.8,307.5 147.7,306.6 148.5,307.2 149.3,306.7 150.2,305.5 151.0,306.2 151.8,306.1 152.7,306.7 153.5,305.8 154.3,306.4 155.2,306.1 156.0,305.4 156.8,306.5 157.7,304.9 158.5,306.2 159.3,304.8 160.2,304.4 161.0,304.6 161.8,305.6 162.7,306.0 163.5,304.1 164.3,305.0 165.1,305.0 166.0,305.7 166.8,304.6 167.6,305.3 168.5,305.2 169.3,306.2 170.1,305.3 171.0,306.7 171.8,305.6 172.6,305.5 173.5,306.5 174.3,306.2 175.1,305.6 176.0,306.7 176.8,305.7 177.6,307.1 178.5,307.0 179.3,307.3 180.1,307.0 181.0,306.6 181.8,306.8 182.6,306.8 183.5,307.9 184.3,306.4" fill="none" stroke="#454545" stroke-width="2.1" stroke-linejoin="round" stroke-linecap="round"/>
<polyline points="29.6,405.9 30.1,405.2 30.7,405.3 31.2,405.3 31.8,405.7 32.3,405.3 32.8,405.2 33.4,405.5 33.9,405.0 34.4,405.1 35.0,405.1 35.5,405.2 36.1,405.2 36.6,405.0 37.1,404.7 37.7,404.7 38.2,404.5 38.7,405.0 39.3,404.8 39.8,404.8 40.4,404.3 40.9,404.5 41.4,404.7 42.0,404.5 42.5,404.1 43.0,404.3 43.6,404.6 44.1,404.1 44.7,404.0 45.2,404.1 45.7,404.4 46.3,404.4 46.8,403.9 47.3,403.8 47.9,403.9 48.4,403.9 49.0,404.1 49.5,403.7 50.0,403.9 50.6,403.7 51.1,404.3 51.6,404.1 52.2,403.6 52.7,404.3 53.3,403.6 53.8,403.8 54.3,404.2 54.9,404.1 55.4,404.0 56.0,403.7 56.5,403.5 57.0,403.8 57.6,403.4 58.1,403.5 58.6,403.6 59.2,403.3 59.7,403.6 60.3,403.9 60.8,403.8 61.3,403.6 61.9,403.7 62.4,403.6 62.9,403.3 63.5,403.7 64.0,403.5 64.6,403.8 65.1,403.9 65.6,403.5 66.2,403.6 66.7,403.8 67.2,403.5 67.8,403.4 68.3,403.8 68.9,404.0 69.4,404.0 69.9,404.0 70.5,404.2 71.0,404.2 71.5,404.3 72.1,404.2 72.6,404.2 73.2,404.5 73.7,404.2 74.2,404.5 74.8,404.8 75.3,404.9 75.8,404.9 76.4,404.6 76.9,404.8 77.5,404.9 78.0,405.1" fill="none" stroke="#000" stroke-width="1.9" stroke-linejoin="round" stroke-linecap="round"/>
<polyline points="29.6,405.6 30.3,405.6 31.0,405.7 31.7,405.2 32.4,405.4 33.1,405.4 33.8,405.1 34.5,405.1 35.2,405.3 35.9,404.7 36.6,404.9 37.3,404.7 38.0,404.9 38.7,404.9 39.4,404.7 40.1,404.4 40.9,404.6 41.6,404.5 42.3,404.5 43.0,404.4 43.7,404.4 44.4,404.5 45.1,404.3 45.8,404.2 46.5,404.4 47.2,404.0 47.9,404.2 48.6,404.0 49.3,404.2 50.0,403.8 50.7,404.2 51.4,403.9 52.1,403.7 52.8,403.8 53.5,403.8 54.2,403.6 54.9,403.8 55.6,403.7 56.3,403.9 57.0,403.7 57.7,403.6 58.4,403.6 59.1,403.8 59.8,403.9 60.5,403.6 61.2,403.5 61.9,403.8 62.6,403.5 63.4,403.4 64.1,403.4 64.8,403.7 65.5,403.7 66.2,403.7 66.9,403.6 67.6,403.6 68.3,403.5 69.0,403.9 69.7,403.7 70.4,404.0 71.1,404.2 71.8,404.4 72.5,404.3 73.2,404.3 73.9,404.6 74.6,404.5 75.3,405.0 76.0,404.9 76.7,405.2 77.4,404.9 78.1,404.9 78.8,404.7 79.5,404.4 80.2,403.8 80.9,402.9 81.6,402.1 82.3,400.7 83.0,399.0 83.7,396.9 84.4,393.6 85.2,388.6 85.9,383.9 86.6,380.3 87.3,377.0 88.0,374.3 88.7,371.5 89.4,368.4 90.1,366.1 90.8,363.6 91.5,361.2 92.2,358.7 92.9,357.2 93.6,355.4 94.3,353.6 95.0,352.3 95.7,351.7 96.4,350.5 97.1,349.4 97.8,348.4 98.5,347.6 99.2,346.9 99.9,346.4 100.6,345.5 101.3,344.8 102.0,344.6 102.7,344.0 103.4,343.2 104.1,343.1 104.8,342.6 105.5,342.3 106.2,342.0 107.0,341.8 107.7,341.5 108.4,341.2 109.1,340.7 109.8,340.7 110.5,340.4 111.2,340.2 111.9,339.9 112.6,339.9 113.3,339.5 114.0,339.2 114.7,339.0 115.4,338.8 116.1,338.8 116.8,338.4 117.5,338.5 118.2,338.2 118.9,338.2 119.6,338.1 120.3,338.0 121.0,338.0 121.7,337.4 122.4,337.7 123.1,337.4 123.8,337.4 124.5,337.3 125.2,337.3 125.9,337.0 126.6,336.9 127.3,337.1 128.0,336.6 128.7,336.8 129.5,336.7 130.2,336.3 130.9,336.6 131.6,336.5 132.3,336.6 133.0,336.2 133.7,336.5 134.4,336.1 135.1,336.1 135.8,336.2 136.5,335.7 137.2,335.9 137.9,335.8 138.6,335.6 139.3,335.8 140.0,335.5 140.7,335.5 141.4,335.4 142.1,335.5 142.8,335.1 143.5,335.2 144.2,335.1 144.9,335.1 145.6,335.2 146.3,334.8 147.0,335.1 147.7,334.8 148.4,334.8 149.1,334.6 149.8,334.7 150.5,334.8 151.3,334.6 152.0,334.6 152.7,334.4 153.4,334.3 154.1,334.3 154.8,334.4 155.5,334.3 156.2,334.4 156.9,334.0 157.6,334.3 158.3,334.3 159.0,334.1 159.7,333.8 160.4,333.9 161.1,333.8 161.8,333.8 162.5,334.2 163.2,334.0 163.9,334.0 164.6,334.0 165.3,334.1 166.0,333.9 166.7,333.9 167.4,333.9 168.1,333.9 168.8,333.8 169.5,333.8 170.2,333.6 170.9,333.8 171.6,333.7 172.3,333.8 173.0,333.5 173.8,333.5 174.5,333.4 175.2,333.8 175.9,333.8 176.6,333.7 177.3,333.5 178.0,333.7 178.7,333.7 179.4,333.6 180.1,333.4 180.8,333.4 181.5,333.4 182.2,333.4 182.9,333.4 183.6,333.5 184.3,333.6" fill="none" stroke="#000" stroke-width="1.4" stroke-linejoin="round" stroke-linecap="round"/>
<text x="187" y="312" font-size="10.32" font-weight="bold" fill="#000" textLength="66.5" lengthAdjust="spacingAndGlyphs">hFcR/ALOX12</text>
<text x="253.80" y="310.50" font-size="7.2" font-weight="bold" fill="#000" stroke="#000" stroke-width="0.30">+</text>
<text x="257.70" y="312.60" font-size="10.0" font-weight="bold" fill="#000" stroke="#000" stroke-width="0.30">/</text>
<text x="261.30" y="310.50" font-size="7.2" font-weight="bold" fill="#000" stroke="#000" stroke-width="0.30">+</text>
<text x="187" y="338" font-size="10.32" font-weight="bold" fill="#000" textLength="66.5" lengthAdjust="spacingAndGlyphs">hFcR/ALOX12</text>
<text x="253.90" y="335.60" font-size="7.2" font-weight="bold" fill="#000" stroke="#000" stroke-width="0.30">-</text>
<text x="256.50" y="338.10" font-size="10.0" font-weight="bold" fill="#000" stroke="#000" stroke-width="0.30">/</text>
<text x="260.00" y="335.60" font-size="7.2" font-weight="bold" fill="#000" stroke="#000" stroke-width="0.30">-</text>
<path d="M321.70,58.39V47.77M317.40,47.77H326.00" stroke="#000" stroke-width="1.6" fill="none"/>
<path d="M341.40,103.60V88.27M337.10,88.27H345.70" stroke="#000" stroke-width="1.6" fill="none"/>
<rect x="314.40" y="58.39" width="14.60" height="114.01" fill="#000"/>
<rect x="335.25" y="104.45" width="12.30" height="67.95" fill="#8c8c8c" stroke="#000" stroke-width="1.7"/>
<path d="M373.70,106.55V96.13M369.40,96.13H378.00" stroke="#000" stroke-width="1.6" fill="none"/>
<path d="M393.40,139.77V132.10M389.10,132.10H397.70" stroke="#000" stroke-width="1.6" fill="none"/>
<rect x="366.40" y="106.55" width="14.60" height="65.85" fill="#000"/>
<rect x="387.25" y="140.62" width="12.30" height="31.78" fill="#8c8c8c" stroke="#000" stroke-width="1.7"/>
<path d="M425.70,139.77V135.05M421.40,135.05H430.00" stroke="#000" stroke-width="1.6" fill="none"/>
<path d="M445.40,157.85V155.10M441.10,155.10H449.70" stroke="#000" stroke-width="1.6" fill="none"/>
<rect x="418.40" y="139.77" width="14.60" height="32.63" fill="#000"/>
<rect x="439.25" y="158.70" width="12.30" height="13.70" fill="#8c8c8c" stroke="#000" stroke-width="1.7"/>
<path d="M477.70,144.09V139.77M473.40,139.77H482.00" stroke="#000" stroke-width="1.6" fill="none"/>
<path d="M497.40,163.36V161.98M493.10,161.98H501.70" stroke="#000" stroke-width="1.6" fill="none"/>
<rect x="470.40" y="144.09" width="14.60" height="28.31" fill="#000"/>
<rect x="491.25" y="164.21" width="12.30" height="8.19" fill="#8c8c8c" stroke="#000" stroke-width="1.7"/>
<path d="M305.6,33.8V172.4H512.6" fill="none" stroke="#000" stroke-width="2"/>
<path d="M301.40000000000003,172.40H305.6" stroke="#000" stroke-width="1.8"/>
<text x="301.0" y="176.34" font-size="11" font-weight="bold" fill="#000" text-anchor="end">0</text>
<path d="M301.40000000000003,152.74H305.6" stroke="#000" stroke-width="1.8"/>
<text x="301.0" y="156.68" font-size="11" font-weight="bold" fill="#000" text-anchor="end">1</text>
<path d="M301.40000000000003,133.09H305.6" stroke="#000" stroke-width="1.8"/>
<text x="301.0" y="137.02" font-size="11" font-weight="bold" fill="#000" text-anchor="end">2</text>
<path d="M301.40000000000003,113.43H305.6" stroke="#000" stroke-width="1.8"/>
<text x="301.0" y="117.37" font-size="11" font-weight="bold" fill="#000" text-anchor="end">3</text>
<path d="M301.40000000000003,93.77H305.6" stroke="#000" stroke-width="1.8"/>
<text x="301.0" y="97.71" font-size="11" font-weight="bold" fill="#000" text-anchor="end">4</text>
<path d="M301.40000000000003,74.11H305.6" stroke="#000" stroke-width="1.8"/>
<text x="301.0" y="78.05" font-size="11" font-weight="bold" fill="#000" text-anchor="end">5</text>
<path d="M301.40000000000003,54.46H305.6" stroke="#000" stroke-width="1.8"/>
<text x="301.0" y="58.4" font-size="11" font-weight="bold" fill="#000" text-anchor="end">6</text>
<path d="M301.40000000000003,34.80H305.6" stroke="#000" stroke-width="1.8"/>
<text x="301.0" y="38.74" font-size="11" font-weight="bold" fill="#000" text-anchor="end">7</text>
<path d="M331,172.4V176.6" stroke="#000" stroke-width="1.8"/>
<text x="331.4" y="188.4" font-size="12.7" font-weight="bold" fill="#000" text-anchor="middle">.5</text>
<path d="M383,172.4V176.6" stroke="#000" stroke-width="1.8"/>
<text x="383.4" y="188.4" font-size="12.7" font-weight="bold" fill="#000" text-anchor="middle">1</text>
<path d="M435,172.4V176.6" stroke="#000" stroke-width="1.8"/>
<text x="435.4" y="188.4" font-size="12.7" font-weight="bold" fill="#000" text-anchor="middle">2.5</text>
<path d="M487,172.4V176.6" stroke="#000" stroke-width="1.8"/>
<text x="487.4" y="188.4" font-size="12.7" font-weight="bold" fill="#000" text-anchor="middle">5</text>
<path d="M321.8,40.6V38.9Q321.8,37.6 323.1,37.6H338.3Q339.6,37.6 339.6,38.9V40.6" fill="none" stroke="#000" stroke-width="1.5"/>
<text x="332" y="38.2" font-size="11.8" font-weight="bold" fill="#000" text-anchor="middle">*</text>
<path d="M373.6,88.6V86.89999999999999Q373.6,85.6 374.90000000000003,85.6H390.3Q391.6,85.6 391.6,86.89999999999999V88.6" fill="none" stroke="#000" stroke-width="1.5"/>
<text x="382.4" y="86.2" font-size="11.8" font-weight="bold" fill="#000" text-anchor="middle">*</text>
<path d="M425,129.6V127.89999999999999Q425,126.6 426.3,126.6H441.7Q443,126.6 443,127.89999999999999V129.6" fill="none" stroke="#000" stroke-width="1.5"/>
<text x="435" y="127.2" font-size="11.8" font-weight="bold" fill="#000" text-anchor="middle">*</text>
<path d="M476.6,134V132.3Q476.6,131 477.90000000000003,131H493.3Q494.6,131 494.6,132.3V134" fill="none" stroke="#000" stroke-width="1.5"/>
<text x="485" y="131.6" font-size="11.8" font-weight="bold" fill="#000" text-anchor="middle">*</text>
<text x="365.6" y="204" font-size="10.8" font-weight="bold" fill="#000" textLength="85.6" lengthAdjust="spacingAndGlyphs">anti-CD9 (µg/mL)</text>
<text transform="translate(286.6,140) rotate(-90)" font-size="10.9" font-weight="bold" fill="#000" textLength="80" lengthAdjust="spacingAndGlyphs">Lag Time (min)</text>
<rect x="426.3" y="23.1" width="9.6" height="8.6" fill="#a6a6a6" stroke="#000" stroke-width="1.4"/>
<rect x="425.6" y="35.4" width="11" height="10.6" fill="#000"/>
<text x="441" y="28.6" font-size="8.3" font-weight="bold" fill="#000" textLength="52" lengthAdjust="spacingAndGlyphs">hFcR/ALOX12</text>
<text x="493.28" y="26.82" font-size="6.62" font-weight="bold" fill="#000" stroke="#000" stroke-width="0.28">+</text>
<text x="496.86" y="28.75" font-size="9.2" font-weight="bold" fill="#000" stroke="#000" stroke-width="0.28">/</text>
<text x="500.18" y="26.82" font-size="6.62" font-weight="bold" fill="#000" stroke="#000" stroke-width="0.28">+</text>
<text x="441.6" y="44.5" font-size="8.3" font-weight="bold" fill="#000" textLength="52" lengthAdjust="spacingAndGlyphs">hFcR/ALOX12</text>
<text x="493.97" y="41.99" font-size="6.62" font-weight="bold" fill="#000" stroke="#000" stroke-width="0.28">-</text>
<text x="496.36" y="44.29" font-size="9.2" font-weight="bold" fill="#000" stroke="#000" stroke-width="0.28">/</text>
<text x="499.58" y="41.99" font-size="6.62" font-weight="bold" fill="#000" stroke="#000" stroke-width="0.28">-</text>
<path d="M316.10,370.12V366.98M313.20,366.98H319.00" stroke="#000" stroke-width="1.6" fill="none"/>
<path d="M329.45,275.58V269.02M326.55,269.02H332.35" stroke="#000" stroke-width="1.6" fill="none"/>
<rect x="310.70" y="370.12" width="10.80" height="8.28" fill="#000"/>
<rect x="324.75" y="276.43" width="9.40" height="101.97" fill="#8c8c8c" stroke="#000" stroke-width="1.7"/>
<path d="M351.70,359.84V349.84M348.80,349.84H354.60" stroke="#000" stroke-width="1.6" fill="none"/>
<path d="M365.05,266.87V261.88M362.15,261.88H367.95" stroke="#000" stroke-width="1.6" fill="none"/>
<rect x="346.30" y="359.84" width="10.80" height="18.56" fill="#000"/>
<rect x="360.35" y="267.72" width="9.40" height="110.68" fill="#8c8c8c" stroke="#000" stroke-width="1.7"/>
<path d="M387.20,272.01V264.16M384.30,264.16H390.10" stroke="#000" stroke-width="1.6" fill="none"/>
<path d="M400.55,262.73V254.16M397.65,254.16H403.45" stroke="#000" stroke-width="1.6" fill="none"/>
<rect x="381.80" y="272.01" width="10.80" height="106.39" fill="#000"/>
<rect x="395.85" y="263.58" width="9.40" height="114.82" fill="#8c8c8c" stroke="#000" stroke-width="1.7"/>
<path d="M422.70,265.59V256.31M419.80,256.31H425.60" stroke="#000" stroke-width="1.6" fill="none"/>
<path d="M436.05,266.16V258.45M433.15,258.45H438.95" stroke="#000" stroke-width="1.6" fill="none"/>
<rect x="417.30" y="265.59" width="10.80" height="112.81" fill="#000"/>
<rect x="431.35" y="267.01" width="9.40" height="111.39" fill="#8c8c8c" stroke="#000" stroke-width="1.7"/>
<path d="M458.20,272.30V254.59M455.30,254.59H461.10" stroke="#000" stroke-width="1.6" fill="none"/>
<path d="M471.55,264.30V255.88M468.65,255.88H474.45" stroke="#000" stroke-width="1.6" fill="none"/>
<rect x="452.80" y="272.30" width="10.80" height="106.10" fill="#000"/>
<rect x="466.85" y="265.15" width="9.40" height="113.25" fill="#8c8c8c" stroke="#000" stroke-width="1.7"/>
<path d="M493.70,272.30V257.73M490.80,257.73H496.60" stroke="#000" stroke-width="1.6" fill="none"/>
<path d="M507.05,264.87V257.73M504.15,257.73H509.95" stroke="#000" stroke-width="1.6" fill="none"/>
<rect x="488.30" y="272.30" width="10.80" height="106.10" fill="#000"/>
<rect x="502.35" y="265.72" width="9.40" height="112.68" fill="#8c8c8c" stroke="#000" stroke-width="1.7"/>
<path d="M305.2,234.6V378.4H513" fill="none" stroke="#000" stroke-width="2"/>
<path d="M301.0,378.40H305.2" stroke="#000" stroke-width="1.8"/>
<text x="300.59999999999997" y="382.27" font-size="10.8" font-weight="bold" fill="#000" text-anchor="end">0</text>
<path d="M301.0,349.84H305.2" stroke="#000" stroke-width="1.8"/>
<text x="300.59999999999997" y="353.71" font-size="10.8" font-weight="bold" fill="#000" text-anchor="end">20</text>
<path d="M301.0,321.28H305.2" stroke="#000" stroke-width="1.8"/>
<text x="300.59999999999997" y="325.15" font-size="10.8" font-weight="bold" fill="#000" text-anchor="end">40</text>
<path d="M301.0,292.72H305.2" stroke="#000" stroke-width="1.8"/>
<text x="300.59999999999997" y="296.59" font-size="10.8" font-weight="bold" fill="#000" text-anchor="end">60</text>
<path d="M301.0,264.16H305.2" stroke="#000" stroke-width="1.8"/>
<text x="300.59999999999997" y="268.03" font-size="10.8" font-weight="bold" fill="#000" text-anchor="end">80</text>
<path d="M301.0,235.60H305.2" stroke="#000" stroke-width="1.8"/>
<text x="300.59999999999997" y="239.47" font-size="10.8" font-weight="bold" fill="#000" text-anchor="end">100</text>
<path d="M322.4,378.4V382.59999999999997" stroke="#000" stroke-width="1.8"/>
<text x="324.6" y="393.7" font-size="13" font-weight="bold" fill="#000" text-anchor="middle">.125</text>
<path d="M358,378.4V382.59999999999997" stroke="#000" stroke-width="1.8"/>
<text x="358.6" y="393.7" font-size="13" font-weight="bold" fill="#000" text-anchor="middle">.25</text>
<path d="M393.5,378.4V382.59999999999997" stroke="#000" stroke-width="1.8"/>
<text x="394.3" y="393.7" font-size="13" font-weight="bold" fill="#000" text-anchor="middle">.5</text>
<path d="M429,378.4V382.59999999999997" stroke="#000" stroke-width="1.8"/>
<text x="429.4" y="393.7" font-size="13" font-weight="bold" fill="#000" text-anchor="middle">1</text>
<path d="M464.5,378.4V382.59999999999997" stroke="#000" stroke-width="1.8"/>
<text x="464.9" y="393.7" font-size="13" font-weight="bold" fill="#000" text-anchor="middle">2.5</text>
<path d="M500,378.4V382.59999999999997" stroke="#000" stroke-width="1.8"/>
<text x="500.4" y="393.7" font-size="13" font-weight="bold" fill="#000" text-anchor="middle">5</text>
<path d="M315.6,264.2V262.5Q315.6,261.2 316.90000000000003,261.2H329.3Q330.6,261.2 330.6,262.5V264.2" fill="none" stroke="#000" stroke-width="1.5"/>
<text x="324.4" y="261.8" font-size="11.8" font-weight="bold" fill="#000" text-anchor="middle">*</text>
<path d="M350.6,257.2V255.5Q350.6,254.2 351.90000000000003,254.2H364.7Q366,254.2 366,255.5V257.2" fill="none" stroke="#000" stroke-width="1.5"/>
<text x="359" y="254.8" font-size="11.8" font-weight="bold" fill="#000" text-anchor="middle">*</text>
<text x="364" y="405.8" font-size="10.8" font-weight="bold" fill="#000" textLength="86.2" lengthAdjust="spacingAndGlyphs">anti-CD9 (µg/mL)</text>
<text transform="translate(279.8,358.2) rotate(-90)" font-size="10.9" font-weight="bold" fill="#000" textLength="107.5" lengthAdjust="spacingAndGlyphs">Final Aggregation (%)</text>
</g>
</svg>
</body></html>
